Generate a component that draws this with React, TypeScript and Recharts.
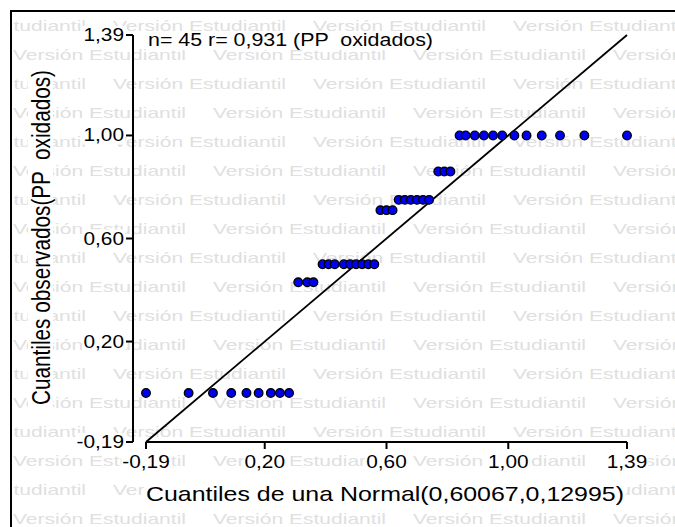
import { ScatterChart, Scatter, XAxis, YAxis, ReferenceLine } from "recharts";

const normalQuantiles = [
  -0.19, -0.05, 0.03, 0.09, 0.14, 0.18, 0.22, 0.25, 0.28,
  0.31, 0.34, 0.36,
  0.39, 0.41, 0.43, 0.46, 0.48, 0.5, 0.52, 0.54, 0.56,
  0.58, 0.6, 0.62,
  0.64, 0.66, 0.68, 0.7, 0.72, 0.74,
  0.77, 0.79, 0.81,
  0.84, 0.86, 0.89, 0.92, 0.95, 0.98, 1.02, 1.06, 1.11, 1.17, 1.25, 1.39,
];
const observed = [
  0, 0, 0, 0, 0, 0, 0, 0, 0,
  0.43, 0.43, 0.43,
  0.5, 0.5, 0.5, 0.5, 0.5, 0.5, 0.5, 0.5, 0.5,
  0.71, 0.71, 0.71,
  0.75, 0.75, 0.75, 0.75, 0.75, 0.75,
  0.86, 0.86, 0.86,
  1, 1, 1, 1, 1, 1, 1, 1, 1, 1, 1, 1,
];
const xTicks = [-0.19, 0.2, 0.6, 1.0, 1.39];
const yTicks = [-0.19, 0.2, 0.6, 1.0, 1.39];
const axisMin = -0.19;
const axisMax = 1.39;

const title = "n= 45 r= 0,931 (PP  oxidados)";
const xTitle = "Cuantiles de una Normal(0,60067,0,12995)";
const yTitle = "Cuantiles observados(PP  oxidados)";
const watermark = "Versión Estudiantil";

const points = normalQuantiles.map((q, i) => ({ x: q, y: observed[i] }));

const FONT = '"Liberation Sans", Arial, Helvetica, sans-serif';
const STRETCH = 1.19;
const TICK_FONT = 17.5;
// where the two axis lines sit (plot margins below put them there)
const AXIS_X = 133;
const AXIS_Y = 442;

const charW: Record<string, number> = { "-": 0.333, ",": 0.278 };
function labelWidth(s: string, size: number) {
  let w = 0;
  for (const c of s) w += charW[c] ?? 0.556;
  return w * size * STRETCH;
}
const fmt = (v: number) => v.toFixed(2).replace(".", ",");

function XTick(props: any) {
  const { x, payload } = props;
  const s = fmt(payload.value);
  const w = labelWidth(s, TICK_FONT);
  return (
    <g>
      <line x1={x} x2={x} y1={AXIS_Y} y2={AXIS_Y + 7} stroke="#000" strokeWidth={2} />
      <rect x={x - w / 2 - 1} y={AXIS_Y + 12} width={w + 2} height={17} fill="#fff" />
      <text
        transform={`translate(${x},${AXIS_Y + 26}) scale(${STRETCH},1)`}
        textAnchor="middle"
        fontSize={TICK_FONT}
        fontFamily={FONT}
        fill="#000"
      >
        {s}
      </text>
    </g>
  );
}

function YTick(props: any) {
  const { y, payload } = props;
  const s = fmt(payload.value);
  const w = labelWidth(s, TICK_FONT);
  const end = AXIS_X - 9;
  return (
    <g>
      <rect x={end - w - 1} y={y - 9} width={w + 2} height={18} fill="#fff" />
      <line x1={AXIS_X - 7} x2={AXIS_X} y1={y} y2={y} stroke="#000" strokeWidth={2} />
      <text
        transform={`translate(${end},${y + 6}) scale(${STRETCH},1)`}
        textAnchor="end"
        fontSize={TICK_FONT}
        fontFamily={FONT}
        fill="#000"
      >
        {s}
      </text>
    </g>
  );
}

function Dot(props: any) {
  const { cx, cy } = props;
  return <circle cx={cx} cy={cy} r={4.3} fill="#0000f0" stroke="#000" strokeWidth={1.3} />;
}

function Background() {
  const rows = [];
  for (let k = 0; k < 18; k++) {
    const y = 30.9 + 29 * k;
    const start = k % 2 === 0 ? -87 : -187;
    for (let x = start; x < 700; x += 200) {
      rows.push(
        <text
          key={`${k}-${x}`}
          x={x}
          y={y}
          fontSize={15}
          fontFamily={FONT}
          fill="#e0e0e0"
          textLength={173}
          lengthAdjust="spacingAndGlyphs"
        >
          {watermark}
        </text>
      );
    }
  }
  return (
    <svg width={675} height={527} style={{ position: "absolute", left: 0, top: 0 }}>
      <defs>
        <clipPath id="frame">
          <rect x={13} y={13} width={662} height={514} />
        </clipPath>
      </defs>
      <g clipPath="url(#frame)">{rows}</g>
      <rect x={11} y={11} width={700} height={600} fill="none" stroke="#000" strokeWidth={2} />

      <rect x={146} y={31} width={290} height={19} fill="#fff" />
      <text
        x={148}
        y={46}
        fontSize={17.5}
        fontFamily={FONT}
        fill="#000"
        textLength={285}
        lengthAdjust="spacingAndGlyphs"
        style={{ whiteSpace: "pre" }}
      >
        {title}
      </text>

      <rect x={144} y={482} width={482} height={27} fill="#fff" />
      <text
        x={146}
        y={501}
        fontSize={21}
        fontFamily={FONT}
        fill="#000"
        textLength={478}
        lengthAdjust="spacingAndGlyphs"
      >
        {xTitle}
      </text>

      <rect x={28} y={64} width={25} height={347} fill="#fff" />
      <text
        transform="translate(50,237.5) scale(1.25,1) rotate(-90)"
        x={0}
        y={0}
        textAnchor="middle"
        fontSize={21}
        fontFamily={FONT}
        fill="#000"
        textLength={335}
        lengthAdjust="spacingAndGlyphs"
        style={{ whiteSpace: "pre" }}
      >
        {yTitle}
      </text>
    </svg>
  );
}

export default function App() {
  return (
    <div
      style={{
        position: "absolute",
        left: 0,
        top: 0,
        width: 675,
        height: 527,
        overflow: "hidden",
        background: "#fff",
      }}
    >
      <Background />
      <div style={{ position: "absolute", left: 0, top: 0 }}>
        <ScatterChart
          width={675}
          height={527}
          margin={{ top: 35, right: 48, bottom: 55, left: 73 }}
        >
          <XAxis
            type="number"
            dataKey="x"
            domain={[axisMin, axisMax]}
            ticks={xTicks}
            interval={0}
            height={30}
            padding={{ left: 13, right: 0 }}
            axisLine={false}
            tickLine={false}
            tick={<XTick />}
          />
          <YAxis
            type="number"
            dataKey="y"
            domain={[axisMin, axisMax]}
            ticks={yTicks}
            interval={0}
            width={60}
            axisLine={{ stroke: "#000", strokeWidth: 2 }}
            tickLine={false}
            tick={<YTick />}
          />
          <ReferenceLine
            segment={[
              { x: axisMin, y: axisMin },
              { x: axisMax, y: axisMin },
            ]}
            stroke="#000"
            strokeWidth={2}
            ifOverflow="visible"
          />
          <ReferenceLine
            segment={[
              { x: axisMin, y: axisMin },
              { x: axisMax, y: axisMax },
            ]}
            stroke="#000"
            strokeWidth={1.8}
            ifOverflow="visible"
          />
          <Scatter data={points} shape={<Dot />} isAnimationActive={false} />
        </ScatterChart>
      </div>
    </div>
  );
}
